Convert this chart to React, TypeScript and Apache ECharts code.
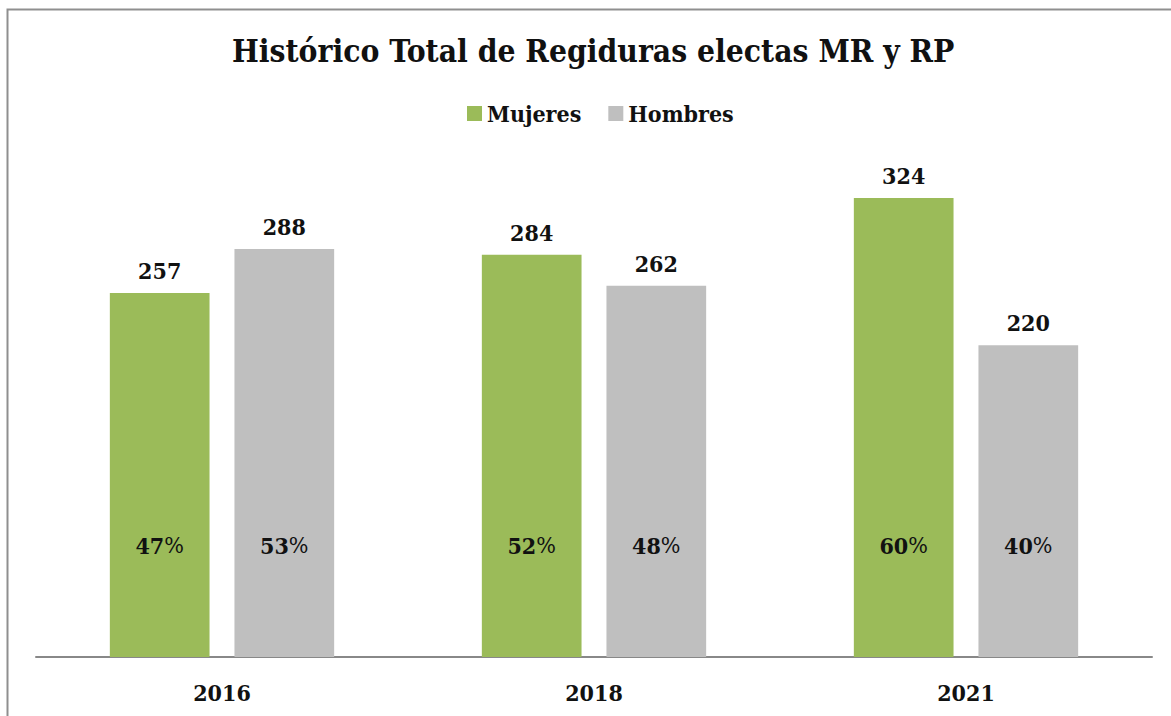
import React, { useEffect, useRef } from "react";
import * as echarts from "echarts";

const years = ["2016", "2018", "2021"];
const mujeres = [257, 284, 324];
const hombres = [288, 262, 220];
const pctMujeres = [47, 52, 60];
const pctHombres = [53, 48, 40];
const pctLabelLevel = 79;

const FONT = '"DejaVu Serif Condensed", "DejaVu Serif", "Liberation Serif", serif';

function pctMarks(pcts: number[]) {
  return pcts.map((p, i) => ({
    coord: [i, pctLabelLevel],
    value: p,
  }));
}

export default function App() {
  const ref = useRef<HTMLDivElement>(null);
  useEffect(() => {
    if (!ref.current) return;
    const chart = echarts.init(ref.current, null, { renderer: "svg" });
    const markPointCfg = (pcts: number[]) => ({
      symbol: "rect",
      symbolSize: 1,
      itemStyle: { color: "rgba(0,0,0,0)" },
      label: {
        show: true,
        position: "inside",
        formatter: (p: any) => `{b|${p.value}}{n|%}`,
        rich: {
          b: { fontFamily: FONT, fontWeight: "bold", fontSize: 23, color: "#111" },
          n: { fontFamily: FONT, fontWeight: "normal", fontSize: 23, color: "#111" },
        },
      },
      data: pctMarks(pcts),
    });
    chart.setOption({
      animation: false,
      backgroundColor: "#ffffff",
      title: {
        text: "Histórico Total de Regiduras electas MR y RP",
        left: 227,
        top: 29,
        textStyle: { fontFamily: FONT, fontWeight: "bold", fontSize: 31.5, color: "#111" },
      },
      legend: {
        top: 97,
        left: 462,
        itemWidth: 15,
        itemHeight: 15,
        itemGap: 27,
        icon: "rect",
        textStyle: { fontFamily: FONT, fontWeight: "bold", fontSize: 23, color: "#111" },
        data: ["Mujeres", "Hombres"],
      },
      graphic: [
        {
          type: "rect",
          shape: { x: 7.5, y: 9.5, width: 1300, height: 900 },
          style: { fill: "none", stroke: "#8f8f8f", lineWidth: 2 },
          silent: true,
        },
      ],
      grid: { left: 36, right: 19, top: 90.3, bottom: 59, containLabel: false },
      xAxis: {
        type: "category",
        data: years,
        axisLine: { show: true, lineStyle: { color: "#888888", width: 2 } },
        axisTick: { show: false },
        axisLabel: {
          margin: 24,
          fontFamily: FONT,
          fontWeight: "bold",
          fontSize: 23,
          color: "#111",
        },
      },
      yAxis: {
        type: "value",
        min: 0,
        max: 400,
        show: false,
        splitLine: { show: false },
      },
      series: [
        {
          name: "Mujeres",
          type: "bar",
          data: mujeres,
          barWidth: "26.8%",
          barGap: "25%",
          itemStyle: { color: "#9BBB59" },
          label: {
            show: true,
            position: "top",
            distance: 11,
            fontFamily: FONT,
            fontWeight: "bold",
            fontSize: 23,
            color: "#111",
          },
          markPoint: markPointCfg(pctMujeres),
        },
        {
          name: "Hombres",
          type: "bar",
          data: hombres,
          barWidth: "26.8%",
          barGap: "25%",
          itemStyle: { color: "#BFBFBF" },
          label: {
            show: true,
            position: "top",
            distance: 11,
            fontFamily: FONT,
            fontWeight: "bold",
            fontSize: 23,
            color: "#111",
          },
          markPoint: markPointCfg(pctHombres),
        },
      ],
    });
    return () => chart.dispose();
  }, []);
  return (
    <div
      ref={ref}
      style={{ position: "fixed", left: 0, top: 0, width: 1171, height: 716 }}
    />
  );
}
